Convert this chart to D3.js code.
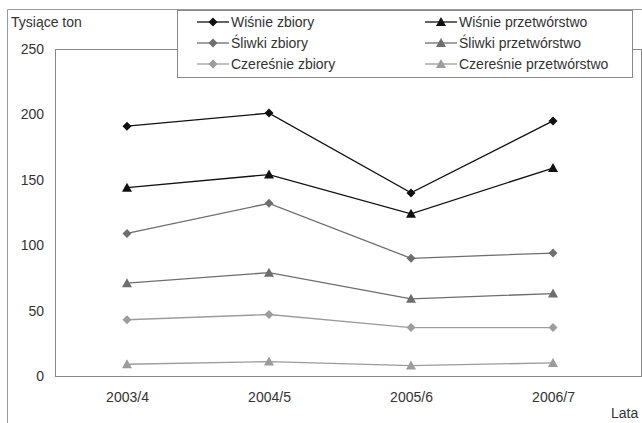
<!DOCTYPE html>
<html>
<head>
<meta charset="utf-8">
<script src="https://cdn.jsdelivr.net/npm/d3@7"></script>
<style>
  html, body { margin: 0; padding: 0; background: #fff; }
  svg { display: block; font-family: "Liberation Sans", Arial, sans-serif; }
</style>
</head>
<body>
<svg id="chart" width="642" height="423"></svg>
<script>
// Seasons on the x axis
const seasons = ["2003/4", "2004/5", "2005/6", "2006/7"];
const yTicks = [0, 50, 100, 150, 200, 250];

// Thousand tonnes per season
const wisnieZbiory = [191, 201, 140, 195];
const wisniePrzetworstwo = [144, 154, 124, 159];
const sliwkiZbiory = [109, 132, 90, 94];
const sliwkiPrzetworstwo = [71, 79, 59, 63];
const czeresnieZbiory = [43, 47, 37, 37];
const czeresniePrzetworstwo = [9, 11, 8, 10];

const seriesNames = [
  "Wiśnie zbiory", "Śliwki zbiory", "Czereśnie zbiory",
  "Wiśnie przetwórstwo", "Śliwki przetwórstwo", "Czereśnie przetwórstwo"
];

const series = [
  { name: seriesNames[0], values: wisnieZbiory, color: "#111", marker: "diamond" },
  { name: seriesNames[1], values: sliwkiZbiory, color: "#6e6e6e", marker: "diamond" },
  { name: seriesNames[2], values: czeresnieZbiory, color: "#9c9c9c", marker: "diamond" },
  { name: seriesNames[3], values: wisniePrzetworstwo, color: "#111", marker: "triangle" },
  { name: seriesNames[4], values: sliwkiPrzetworstwo, color: "#6e6e6e", marker: "triangle" },
  { name: seriesNames[5], values: czeresniePrzetworstwo, color: "#9c9c9c", marker: "triangle" }
];

const FONT = 14;
const svg = d3.select("#chart");
const plot = { left: 55, right: 641, top: 49, bottom: 376 };

// Outer chart border
svg.append("path")
  .attr("d", `M7.5,423 V9.5 H642`)
  .attr("fill", "none").attr("stroke", "#999").attr("stroke-width", 1);

// Plot area frame
svg.append("rect")
  .attr("x", plot.left + 0.5).attr("y", plot.top + 0.5)
  .attr("width", plot.right - plot.left).attr("height", plot.bottom - plot.top)
  .attr("fill", "none").attr("stroke", "#888").attr("stroke-width", 1);

const x = d3.scalePoint().domain(seasons).range([127, 553]);
const y = d3.scaleLinear().domain([0, 250]).range([plot.bottom, plot.top]);

// Y axis labels
const yAxis = d3.axisLeft(y).tickValues(yTicks).tickSize(0).tickPadding(11);
const gy = svg.append("g").attr("transform", `translate(${plot.left},0)`).call(yAxis);
gy.select(".domain").remove();
gy.selectAll("text").attr("font-size", FONT).attr("fill", "#333")
  .attr("font-family", "Liberation Sans, Arial, sans-serif");

// X axis labels
const xAxis = d3.axisBottom(x).tickSize(0).tickPadding(16);
const gx = svg.append("g").attr("transform", `translate(0,${plot.bottom})`).call(xAxis);
gx.select(".domain").remove();
gx.selectAll("text").attr("font-size", FONT).attr("fill", "#333")
  .attr("font-family", "Liberation Sans, Arial, sans-serif");

// Axis titles
svg.append("text").attr("x", 11).attr("y", 27).attr("font-size", FONT).attr("fill", "#333")
  .text("Tysiące ton");
svg.append("text").attr("x", 611).attr("y", 418).attr("font-size", FONT).attr("fill", "#333")
  .text("Lata");

// Square diamond and equilateral-ish triangle markers
const markerPath = m => m === "diamond"
  ? "M0,-4.5L4.5,0L0,4.5L-4.5,0Z"
  : "M0,-5L5,4L-5,4Z";

const line = d3.line().x((d, i) => x(seasons[i])).y(d => y(d));

// Lines and markers
series.forEach(s => {
  svg.append("path").datum(s.values)
    .attr("d", line).attr("fill", "none")
    .attr("stroke", s.color).attr("stroke-width", 1.3);
  svg.append("g").selectAll("path").data(s.values).join("path")
    .attr("transform", (d, i) => `translate(${x(seasons[i])},${y(d)})`)
    .attr("d", markerPath(s.marker))
    .attr("fill", s.color);
});

// Legend
const legend = svg.append("g");
legend.append("rect")
  .attr("x", 177.5).attr("y", 10.5).attr("width", 455).attr("height", 67)
  .attr("fill", "#fff").attr("stroke", "#888").attr("stroke-width", 1);

series.forEach((s, i) => {
  const col = Math.floor(i / 3), row = i % 3;
  const lx = col === 0 ? 197 : 425;
  const ly = 22 + row * 21;
  const g = legend.append("g");
  g.append("line").attr("x1", lx).attr("x2", lx + 32).attr("y1", ly).attr("y2", ly)
    .attr("stroke", s.color).attr("stroke-width", 1.3);
  g.append("path").attr("transform", `translate(${lx + 16},${ly})`)
    .attr("d", markerPath(s.marker)).attr("fill", s.color);
  g.append("text").attr("x", lx + 34).attr("y", ly + 5)
    .attr("font-size", FONT).attr("fill", "#333").text(s.name);
});
</script>
</body>
</html>
